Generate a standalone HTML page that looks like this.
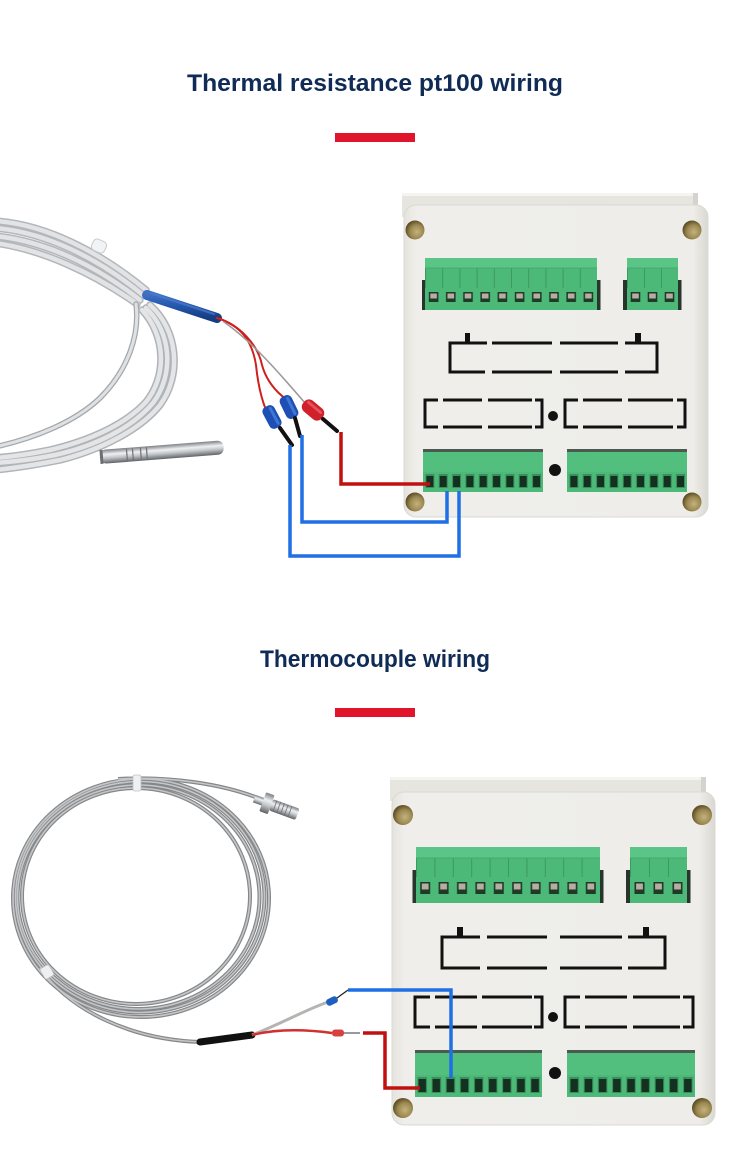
<!DOCTYPE html>
<html><head><meta charset="utf-8"><style>
html,body{margin:0;padding:0;background:#fff;}
svg{display:block;}
</style></head><body>
<svg width="750" height="1150" viewBox="0 0 750 1150" xmlns="http://www.w3.org/2000/svg">
<defs>
<linearGradient id="plate" x1="0" y1="0" x2="1" y2="0">
<stop offset="0" stop-color="#e4e3de"/><stop offset="0.04" stop-color="#efeeea"/>
<stop offset="0.95" stop-color="#eeede9"/><stop offset="1" stop-color="#d9d8d2"/>
</linearGradient>
<radialGradient id="hole" cx="0.6" cy="0.6" r="0.6">
<stop offset="0" stop-color="#c2b27c"/><stop offset="0.6" stop-color="#9c8951"/><stop offset="1" stop-color="#5e4f25"/>
</radialGradient>
<linearGradient id="steel" x1="0" y1="0" x2="0" y2="1">
<stop offset="0" stop-color="#7d8084"/><stop offset="0.35" stop-color="#eef0f2"/>
<stop offset="0.6" stop-color="#c4c7ca"/><stop offset="1" stop-color="#5f6266"/>
</linearGradient>
<linearGradient id="blueS" x1="0" y1="0" x2="0" y2="1">
<stop offset="0" stop-color="#3d70c4"/><stop offset="0.5" stop-color="#2456ab"/><stop offset="1" stop-color="#163d80"/>
</linearGradient>
<pattern id="t1a" x="425" y="258" width="17.2" height="52" patternUnits="userSpaceOnUse">
<rect width="17.2" height="52" fill="#4cb978"/>
<rect width="17.2" height="10" fill="#5ac587"/>
<line x1="0.5" y1="10" x2="0.5" y2="30" stroke="#3b9a5e" stroke-width="1"/>
<rect x="3.8" y="34" width="9.6" height="10" fill="#1f3b28"/>
<rect x="5.3" y="35.5" width="6.6" height="5" fill="#b6aea1"/>
</pattern>
<pattern id="t1b" x="627" y="258" width="17" height="52" patternUnits="userSpaceOnUse">
<rect width="17" height="52" fill="#4cb978"/>
<rect width="17" height="10" fill="#5ac587"/>
<line x1="0.5" y1="10" x2="0.5" y2="30" stroke="#3b9a5e" stroke-width="1"/>
<rect x="3.7" y="34" width="9.6" height="10" fill="#1f3b28"/>
<rect x="5.2" y="35.5" width="6.6" height="5" fill="#b6aea1"/>
</pattern>
<pattern id="b1a" x="423" y="452" width="13.33" height="40" patternUnits="userSpaceOnUse">
<rect width="13.33" height="40" fill="#4cb978"/>
<rect width="13.33" height="20" fill="#52bf7f"/>
<rect x="2.4" y="22" width="9" height="14" fill="#3a8f5a"/>
<rect x="3.4" y="24" width="7" height="11" fill="#143020"/>
</pattern>
<pattern id="b1b" x="567" y="452" width="13.33" height="40" patternUnits="userSpaceOnUse">
<rect width="13.33" height="40" fill="#4cb978"/>
<rect width="13.33" height="20" fill="#52bf7f"/>
<rect x="2.4" y="22" width="9" height="14" fill="#3a8f5a"/>
<rect x="3.4" y="24" width="7" height="11" fill="#143020"/>
</pattern>
<pattern id="t2a" x="416" y="847" width="18.4" height="56" patternUnits="userSpaceOnUse">
<rect width="18.4" height="56" fill="#4cb978"/>
<rect width="18.4" height="11" fill="#5ac587"/>
<line x1="0.5" y1="11" x2="0.5" y2="30" stroke="#3b9a5e" stroke-width="1"/>
<rect x="4.2" y="35" width="10" height="12" fill="#1f3b28"/>
<rect x="5.8" y="36.5" width="6.8" height="6" fill="#b6aea1"/>
</pattern>
<pattern id="t2b" x="630" y="847" width="19" height="56" patternUnits="userSpaceOnUse">
<rect width="19" height="56" fill="#4cb978"/>
<rect width="19" height="11" fill="#5ac587"/>
<line x1="0.5" y1="11" x2="0.5" y2="30" stroke="#3b9a5e" stroke-width="1"/>
<rect x="4.5" y="35" width="10" height="12" fill="#1f3b28"/>
<rect x="6.1" y="36.5" width="6.8" height="6" fill="#b6aea1"/>
</pattern>
<pattern id="b2a" x="415" y="1053" width="14.1" height="44" patternUnits="userSpaceOnUse">
<rect width="14.1" height="44" fill="#4cb978"/>
<rect width="14.1" height="22" fill="#52bf7f"/>
<rect x="2.5" y="24" width="9.5" height="16" fill="#3a8f5a"/>
<rect x="3.5" y="26" width="7.5" height="13" fill="#143020"/>
</pattern>
<pattern id="b2b" x="567" y="1053" width="14.2" height="44" patternUnits="userSpaceOnUse">
<rect width="14.2" height="44" fill="#4cb978"/>
<rect width="14.2" height="22" fill="#52bf7f"/>
<rect x="2.5" y="24" width="9.5" height="16" fill="#3a8f5a"/>
<rect x="3.5" y="26" width="7.5" height="13" fill="#143020"/>
</pattern>
</defs>

<rect width="750" height="1150" fill="#ffffff"/>

<!-- Titles -->
<text x="375" y="91" text-anchor="middle" font-family="Liberation Sans, sans-serif" font-weight="bold" font-size="24" fill="#0f2b56" textLength="376" lengthAdjust="spacingAndGlyphs">Thermal resistance pt100 wiring</text>
<rect x="335" y="133" width="80" height="9" fill="#e0142a"/>
<text x="375" y="667" text-anchor="middle" font-family="Liberation Sans, sans-serif" font-weight="bold" font-size="24" fill="#0f2b56" textLength="230" lengthAdjust="spacingAndGlyphs">Thermocouple wiring</text>
<rect x="335" y="708" width="80" height="9" fill="#e0142a"/>

<!-- ================= DEVICE 1 ================= -->
<rect x="402" y="193" width="296" height="24" fill="#e6e5e0"/>
<rect x="402" y="193" width="296" height="3" fill="#f4f4f1"/>
<rect x="693" y="193" width="5" height="24" fill="#d4d3cd"/>
<rect x="404" y="205" width="304" height="312" rx="12" fill="url(#plate)"/>
<rect x="404" y="205" width="304" height="312" rx="12" fill="none" stroke="#dad9d3" stroke-width="1"/>
<circle cx="415" cy="230" r="9.5" fill="url(#hole)"/>
<circle cx="692" cy="230" r="9.5" fill="url(#hole)"/>
<circle cx="415" cy="502" r="9.5" fill="url(#hole)"/>
<circle cx="692" cy="502" r="9.5" fill="url(#hole)"/>
<rect x="422" y="280" width="3.5" height="30" fill="#27352b"/>
<rect x="597" y="280" width="3.5" height="30" fill="#27352b"/>
<rect x="425" y="258" width="172" height="52" fill="url(#t1a)"/>
<line x1="425" y1="268" x2="597" y2="268" stroke="#46ab6d" stroke-width="1"/>
<rect x="623" y="280" width="4" height="30" fill="#27352b"/>
<rect x="678" y="280" width="3.5" height="30" fill="#27352b"/>
<rect x="627" y="258" width="51" height="52" fill="url(#t1b)"/>
<line x1="627" y1="268" x2="678" y2="268" stroke="#46ab6d" stroke-width="1"/>
<g stroke="#111" stroke-width="3" fill="none">
<path d="M487 343 H450 V372 H485"/>
<path d="M492 343 H552 M492 372 H552"/>
<path d="M560 343 H618 M560 372 H618"/>
<path d="M625 343 H657 V372 H625"/>
<path d="M438 400 H425 V427 H438"/>
<path d="M443 400 H482 M488 400 H532 M443 427 H482 M488 427 H532"/>
<path d="M535 400 H542 V427 H535"/>
<path d="M578 400 H565 V427 H578"/>
<path d="M583 400 H622 M628 400 H673 M583 427 H622 M628 427 H673"/>
<path d="M677 400 H685 V427 H677"/>
</g>
<rect x="465" y="333" width="5" height="10" fill="#111"/>
<rect x="635" y="333" width="6" height="10" fill="#111"/>
<circle cx="553" cy="416" r="5" fill="#111"/>
<rect x="423" y="449" width="120" height="4" fill="#4a5a4e"/>
<rect x="423" y="452" width="120" height="40" fill="url(#b1a)"/>
<rect x="567" y="449" width="120" height="4" fill="#4a5a4e"/>
<rect x="567" y="452" width="120" height="40" fill="url(#b1b)"/>
<circle cx="555" cy="470" r="6" fill="#111"/>

<!-- ================= PROBE 1 (PT100) ================= -->
<g fill="none" stroke-linecap="round">
<g stroke="#b3b7bb" stroke-width="7.5">
<path d="M-5 221 C45 224 100 252 146 290"/>
<path d="M-5 228 C45 232 98 258 143 295"/>
<path d="M-5 236 C45 241 95 265 140 300"/>
<path d="M-5 243 C40 249 92 272 137 304"/>
</g>
<g stroke="#e1e3e5" stroke-width="4.5">
<path d="M-5 221 C45 224 100 252 146 290"/>
<path d="M-5 228 C45 232 98 258 143 295"/>
<path d="M-5 236 C45 241 95 265 140 300"/>
<path d="M-5 243 C40 249 92 272 137 304"/>
</g>
<path d="M136 304 C140 335 128 370 100 398 C75 422 35 438 -5 447" stroke="#a4a8ad" stroke-width="5.5"/>
<path d="M136 304 C140 335 128 370 100 398 C75 422 35 438 -5 447" stroke="#dfe1e3" stroke-width="3"/>
<g stroke="#b0b4b8" stroke-width="7.5">
<path d="M150 305 C178 330 182 375 160 405 C140 430 100 450 60 460 C35 465 15 468 -5 470"/>
<path d="M146 308 C172 333 174 375 153 403 C132 428 95 446 55 455 C30 460 10 462 -5 463"/>
<path d="M142 310 C166 336 167 376 146 402 C125 425 88 441 50 450 C25 455 8 457 -5 458"/>
</g>
<g stroke="#e3e5e7" stroke-width="4.5">
<path d="M150 305 C178 330 182 375 160 405 C140 430 100 450 60 460 C35 465 15 468 -5 470"/>
<path d="M146 308 C172 333 174 375 153 403 C132 428 95 446 55 455 C30 460 10 462 -5 463"/>
<path d="M142 310 C166 336 167 376 146 402 C125 425 88 441 50 450 C25 455 8 457 -5 458"/>
</g>
</g>
<rect x="92" y="240" width="14" height="12" rx="4" fill="#f2f3f4" stroke="#c8cbce" stroke-width="1" transform="rotate(25 99 246)"/>
<path d="M147 295 L217 318" stroke="url(#blueS)" stroke-width="10" stroke-linecap="round"/>
<path d="M150 293 L214 314" stroke="#4b7ccc" stroke-width="2" stroke-linecap="round" opacity="0.7"/>
<g transform="rotate(-4.5 100 457)">
<rect x="100" y="450" width="124" height="14" rx="6" fill="url(#steel)"/>
<rect x="100" y="450" width="3" height="14" fill="#6b6e72"/>
<g stroke="#6e7175" stroke-width="1.2">
<line x1="127" y1="451" x2="127" y2="463"/><line x1="133" y1="451" x2="133" y2="463"/>
<line x1="141" y1="451" x2="141" y2="463"/><line x1="147" y1="451" x2="147" y2="463"/>
</g>
</g>
<g fill="none" stroke-linecap="round">
<path d="M217 318 C240 325 252 340 256 365 C258 385 262 400 266 410" stroke="#d0201c" stroke-width="2"/>
<path d="M217 318 C240 325 258 345 262 365 C266 380 276 392 286 399" stroke="#d0201c" stroke-width="2"/>
<path d="M224 322 C250 340 275 368 305 403" stroke="#9a9a9a" stroke-width="1.6"/>
</g>
<g transform="translate(272 417) rotate(62)">
<rect x="-12" y="-6.5" width="24" height="13" rx="5" fill="#1d4fb5"/>
<rect x="-10" y="-4" width="20" height="3" rx="1.5" fill="#3f76d6"/>
</g>
<line x1="280" y1="428" x2="292" y2="445" stroke="#111" stroke-width="4" stroke-linecap="round"/>
<g transform="translate(289 407) rotate(64)">
<rect x="-12" y="-6.5" width="24" height="13" rx="5" fill="#1d4fb5"/>
<rect x="-10" y="-4" width="20" height="3" rx="1.5" fill="#3f76d6"/>
</g>
<line x1="295" y1="418" x2="300" y2="436" stroke="#111" stroke-width="4" stroke-linecap="round"/>
<g transform="translate(313 410) rotate(40)">
<rect x="-12" y="-7" width="24" height="14" rx="6" fill="#d0202a"/>
<rect x="-10" y="-4.5" width="19" height="3" rx="1.5" fill="#e65058"/>
</g>
<line x1="323" y1="419" x2="337" y2="431" stroke="#111" stroke-width="4" stroke-linecap="round"/>

<g fill="none" stroke-width="3.5" stroke-linejoin="miter">
<path d="M341 432 V484 H430" stroke="#c0100f"/>
<path d="M302 435 V522 H447 V491" stroke="#1f6fe5"/>
<path d="M290 445 V556 H459 V491" stroke="#1f6fe5"/>
</g>

<!-- ================= DEVICE 2 ================= -->
<rect x="390" y="777" width="316" height="24" fill="#e6e5e0"/>
<rect x="390" y="777" width="316" height="3" fill="#f4f4f1"/>
<rect x="701" y="777" width="5" height="24" fill="#d4d3cd"/>
<rect x="392" y="792" width="323" height="333" rx="12" fill="url(#plate)"/>
<rect x="392" y="792" width="323" height="333" rx="12" fill="none" stroke="#dad9d3" stroke-width="1"/>
<circle cx="403" cy="815" r="10" fill="url(#hole)"/>
<circle cx="702" cy="815" r="10" fill="url(#hole)"/>
<circle cx="403" cy="1108" r="10" fill="url(#hole)"/>
<circle cx="702" cy="1108" r="10" fill="url(#hole)"/>
<rect x="412.5" y="870" width="3.5" height="33" fill="#27352b"/>
<rect x="600" y="870" width="3.5" height="33" fill="#27352b"/>
<rect x="416" y="847" width="184" height="56" fill="url(#t2a)"/>
<line x1="416" y1="858" x2="600" y2="858" stroke="#46ab6d" stroke-width="1"/>
<rect x="626" y="870" width="4" height="33" fill="#27352b"/>
<rect x="687" y="870" width="3.5" height="33" fill="#27352b"/>
<rect x="630" y="847" width="57" height="56" fill="url(#t2b)"/>
<line x1="630" y1="858" x2="687" y2="858" stroke="#46ab6d" stroke-width="1"/>
<g stroke="#111" stroke-width="3" fill="none">
<path d="M480 937 H442 V968 H480"/>
<path d="M487 937 H547 M487 968 H547"/>
<path d="M560 937 H622 M560 968 H622"/>
<path d="M628 937 H665 V968 H628"/>
<path d="M430 997 H415 V1027 H430"/>
<path d="M435 997 H477 M482 997 H532 M435 1027 H477 M482 1027 H532"/>
<path d="M534 997 H542 V1027 H534"/>
<path d="M580 997 H565 V1027 H580"/>
<path d="M585 997 H627 M633 997 H680 M585 1027 H627 M633 1027 H680"/>
<path d="M683 997 H693 V1027 H683"/>
</g>
<rect x="457" y="927" width="6" height="10" fill="#111"/>
<rect x="643" y="927" width="6" height="10" fill="#111"/>
<circle cx="553" cy="1017" r="5" fill="#111"/>
<rect x="415" y="1050" width="127" height="4" fill="#4a5a4e"/>
<rect x="415" y="1053" width="127" height="44" fill="url(#b2a)"/>
<rect x="567" y="1050" width="128" height="4" fill="#4a5a4e"/>
<rect x="567" y="1053" width="128" height="44" fill="url(#b2b)"/>
<circle cx="555" cy="1073" r="6" fill="#111"/>

<!-- ================= PROBE 2 (THERMOCOUPLE) ================= -->
<g fill="none">
<g stroke="#858789" stroke-width="4">
<ellipse cx="141" cy="898" rx="128" ry="119"/>
<ellipse cx="140" cy="897" rx="124.5" ry="115.5"/>
<ellipse cx="138.5" cy="897" rx="121" ry="112"/>
<ellipse cx="136" cy="896" rx="114" ry="108"/>
<path d="M118 779 C170 776 222 784 258 798"/>
<path d="M40 968 C70 1010 130 1040 202 1042"/>
</g>
<g stroke="#c4c6c8" stroke-width="1.6">
<ellipse cx="141" cy="898" rx="128" ry="119"/>
<ellipse cx="140" cy="897" rx="124.5" ry="115.5"/>
<ellipse cx="138.5" cy="897" rx="121" ry="112"/>
<ellipse cx="136" cy="896" rx="114" ry="108"/>
<path d="M118 779 C170 776 222 784 258 798"/>
<path d="M40 968 C70 1010 130 1040 202 1042"/>
</g>
</g>
<rect x="133" y="775" width="8" height="16" rx="2" fill="#eef0f1" stroke="#bfc2c5" stroke-width="0.8"/>
<rect x="42" y="966" width="10" height="12" rx="2" fill="#eef0f1" stroke="#bfc2c5" stroke-width="0.8" transform="rotate(-30 47 972)"/>
<g transform="rotate(20 258 800)">
<rect x="254" y="796" width="10" height="8" fill="url(#steel)"/>
<rect x="263" y="790" width="9" height="20" rx="1" fill="url(#steel)"/>
<rect x="272" y="794" width="28" height="12" rx="2" fill="url(#steel)"/>
<g stroke="#6e7175" stroke-width="0.8">
<line x1="276" y1="794" x2="276" y2="806"/><line x1="280" y1="794" x2="280" y2="806"/>
<line x1="284" y1="794" x2="284" y2="806"/><line x1="288" y1="794" x2="288" y2="806"/>
<line x1="292" y1="794" x2="292" y2="806"/>
</g>
</g>
<path d="M200 1042 L252 1035" stroke="#111" stroke-width="7" stroke-linecap="round"/>
<path d="M252 1035 C285 1022 305 1010 328 1002" stroke="#b4b5b0" stroke-width="3" fill="none"/>
<path d="M252 1035 C280 1028 310 1030 332 1033" stroke="#d03030" stroke-width="2.5" fill="none"/>
<g transform="translate(332 1001) rotate(-25)">
<rect x="-6" y="-3.5" width="12" height="7" rx="3" fill="#1f5fc0"/>
</g>
<line x1="337" y1="998" x2="348" y2="990" stroke="#222" stroke-width="1.3"/>
<rect x="332" y="1029.5" width="12" height="7" rx="3" fill="#d8403f"/>
<line x1="344" y1="1033" x2="360" y2="1033" stroke="#9a9a9a" stroke-width="2"/>

<g fill="none" stroke-width="3.5">
<path d="M348 990 H451 V1078" stroke="#1f6fe5"/>
<path d="M363 1033 H385 V1088 H420" stroke="#c0100f"/>
</g>
</svg>
</body></html>
